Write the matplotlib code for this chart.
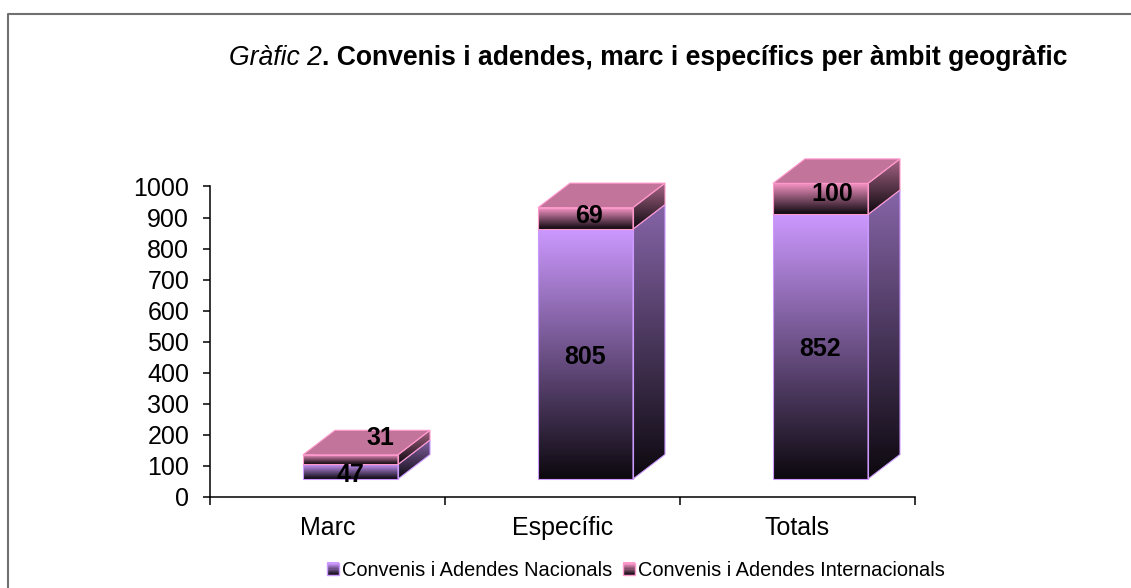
import numpy as np
import matplotlib
matplotlib.use('Agg')
import matplotlib.pyplot as plt
from matplotlib.colors import LinearSegmentedColormap, to_rgb
from matplotlib.legend_handler import HandlerBase
from matplotlib.lines import Line2D
from matplotlib.patches import Polygon, Rectangle

plt.rcParams['font.family'] = ['Liberation Sans', 'DejaVu Sans']

# Dades del gràfic
categories = ['Marc', 'Específic', 'Totals']
nacionals = [47, 805, 852]
internacionals = [31, 69, 100]
noms_series = ['Convenis i Adendes Nacionals', 'Convenis i Adendes Internacionals']
ticks_y = list(range(0, 1100, 100))

color_nac = '#CC99FF'
color_int = '#FF99CC'
color_fosc = '#0C080E'

W, H = 1131, 588
fig = plt.figure(figsize=(W / 100, H / 100), dpi=100)

# marc del gràfic (només es veu a dalt i a l'esquerra)
fig.add_artist(Line2D([7.5 / W, 7.5 / W, 1], [0, 1 - 14 / H, 1 - 14 / H],
                      color='#707070', lw=1.5))

# eixos: 0 a y=497 px, 1000 a y=186.5 px
px_y = (497 - 186.5) / 1000
ymax = 1200
ax = fig.add_axes([210 / W, 1 - 497 / H, 705 / W, ymax * px_y / H])
ax.set_xlim(0, 3)
ax.set_ylim(0, ymax)
ax.patch.set_alpha(0)

px_x = 705 / 3
ample = 95 / px_x
despl = 23 / px_x    # les barres queden desplaçades respecte al centre
prof_x = 32 / px_x
prof_y = 24.5 / px_y
base = 18 / px_y


def degradat(color, factor=1.0):
    c = np.array(to_rgb(color)) * factor
    return LinearSegmentedColormap.from_list('g', [c, color_fosc])


def cara(punts, cmap, zorder):
    # cara amb degradat vertical retallada al polígon
    punts = np.array(punts)
    x0, x1 = punts[:, 0].min(), punts[:, 0].max()
    y0, y1 = punts[:, 1].min(), punts[:, 1].max()
    im = ax.imshow(np.linspace(0, 1, 256).reshape(-1, 1), cmap=cmap, vmin=0, vmax=1,
                   extent=[x0, x1, y0, y1], origin='upper', aspect='auto', zorder=zorder)
    pol = Polygon(punts, closed=True, transform=ax.transData, fc='none', ec='none')
    ax.add_patch(pol)
    im.set_clip_path(pol)


def segment(i, y0, y1, color, zorder):
    x0 = i + 0.5 + despl - ample / 2
    x1 = x0 + ample
    y0 = y0 + base
    y1 = y1 + base
    front = [(x0, y0), (x1, y0), (x1, y1), (x0, y1)]
    lateral = [(x1, y0), (x1 + prof_x, y0 + prof_y), (x1 + prof_x, y1 + prof_y), (x1, y1)]
    cara(front, degradat(color), zorder)
    cara(lateral, degradat(color, 0.66), zorder)
    sostre = [(x0, y1), (x1, y1), (x1 + prof_x, y1 + prof_y), (x0 + prof_x, y1 + prof_y)]
    ax.add_patch(Polygon(sostre, closed=True, fc=np.array(to_rgb(color)) * 0.76,
                         ec=color, lw=0.8, zorder=zorder))
    for pol in (front, lateral):
        ax.add_patch(Polygon(pol, closed=True, fc='none', ec=color, lw=0.8, zorder=zorder + 0.5))


for i in range(len(categories)):
    segment(i, 0, nacionals[i], color_nac, 3)
    segment(i, nacionals[i], nacionals[i] + internacionals[i], color_int, 4)

ax.set_xlim(0, 3)
ax.set_ylim(0, ymax)

# etiquetes de valor: desplaçament en píxels des del centre de la cara frontal
despl_nac = [(0, -3), (0, -3), (0, -2)]
despl_int = [(30, 22), (3, 2), (12, 5)]
for i in range(len(categories)):
    xc = i + 0.5 + despl
    for y0, v, d in ((0, nacionals[i], despl_nac[i]),
                     (nacionals[i], internacionals[i], despl_int[i])):
        ax.annotate(str(v), (xc, base + y0 + v / 2), xytext=(d[0] * 0.72, d[1] * 0.72),
                    textcoords='offset points', ha='center', va='center',
                    fontsize=18, fontweight='bold', color='black', zorder=8)

ax.spines['top'].set_visible(False)
ax.spines['right'].set_visible(False)
ax.spines['left'].set_bounds(0, 1000)
for s in ('left', 'bottom'):
    ax.spines[s].set_linewidth(1.1)

ax.set_yticks(ticks_y)
ax.set_xticks([0, 1, 2, 3])
ax.set_xticklabels([])
ax.set_xticks([0.5, 1.5, 2.5], labels=categories, minor=True)
ax.tick_params(axis='y', labelsize=18, length=5, width=1.1, pad=10)
ax.tick_params(axis='x', which='major', length=5.8, width=1.1, direction='out')
ax.tick_params(axis='x', which='minor', length=0, labelsize=18, pad=14)

# títol: primer la part en cursiva i, just després, la negreta
t1 = fig.text(229 / W, 1 - 58 / H, 'Gràfic 2', fontsize=19.1, fontstyle='italic',
              va='center', ha='left')
fig.canvas.draw()
fi = t1.get_window_extent().x1
fig.text(fi / W, 1 - 58 / H, '. Convenis i adendes, marc i específics per àmbit geogràfic',
         fontsize=19.1, fontweight='bold', va='center', ha='left')


class HandlerDegradat(HandlerBase):
    def create_artists(self, legend, handle, xd, yd, w, h, fs, trans):
        cmap = degradat(handle.get_facecolor())
        n = 10
        costat = w
        baix = -yd + (h - costat) / 2
        peces = []
        for k in range(n):
            peces.append(Rectangle((-xd, baix + costat * (n - 1 - k) / n), costat, costat / n,
                                   fc=cmap(0.9 * k / (n - 1)), ec='none', transform=trans))
        peces.append(Rectangle((-xd, baix), costat, costat, fc='none', ec=handle.get_facecolor(),
                               lw=1, transform=trans))
        return peces


maneres = [Rectangle((0, 0), 1, 1, fc=color_nac), Rectangle((0, 0), 1, 1, fc=color_int)]
fig.legend(maneres, noms_series, handler_map={Rectangle: HandlerDegradat()}, ncol=2, frameon=False,
           fontsize=14.4, loc='center', bbox_to_anchor=(636 / W, 1 - 570 / H), handlelength=0.6,
           handletextpad=0.15, columnspacing=0.5, borderpad=0, borderaxespad=0)

fig.savefig('out.png', dpi=100)
